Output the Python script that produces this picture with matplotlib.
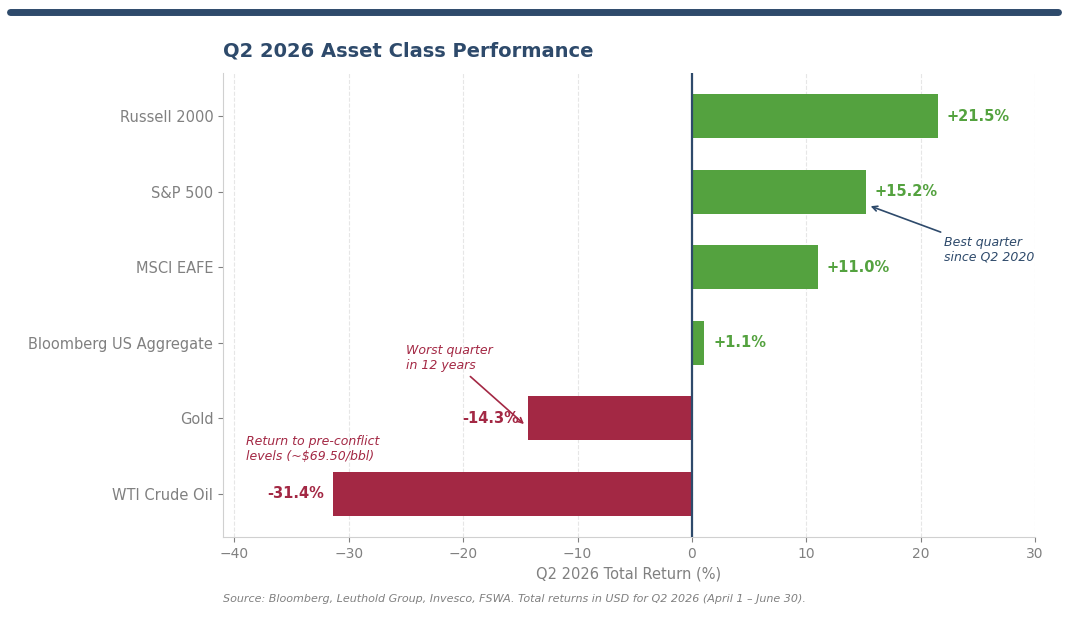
import matplotlib.pyplot as plt
from matplotlib.lines import Line2D

categorias = ["Russell 2000", "S&P 500", "MSCI EAFE", "Bloomberg US Aggregate", "Gold", "WTI Crude Oil"]
retornos = [21.5, 15.2, 11.0, 1.1, -14.3, -31.4]

verde = "#54a23f"
vermelho = "#a32844"
azul = "#2e4a6b"
cinza = "#808080"

fig = plt.figure(figsize=(10.7, 6.2), dpi=100)
ax = fig.add_axes([223/1070, 1 - 537/620, (1035-223)/1070, (537-73)/620])

# faixa do topo
fig.add_artist(Line2D([10/1070, 1058/1070], [1 - 12/620, 1 - 12/620], color=azul, lw=5,
                      solid_capstyle="round"))

y = list(range(len(categorias)))
cores = [verde if r >= 0 else vermelho for r in retornos]
ax.barh(y, retornos, height=0.58, color=cores, zorder=2)
ax.axvline(0, color=azul, lw=1.6, zorder=3)

for yi, r in zip(y, retornos):
    txt = f"{r:+.1f}%"
    if r >= 0:
        ax.text(r + 0.8, yi, txt, va="center", ha="left", color=verde, fontsize=10.5, fontweight="bold")
    else:
        ax.text(r - 0.8, yi, txt, va="center", ha="right", color=vermelho, fontsize=10.5, fontweight="bold")

ax.set_xlim(-41, 30)
ax.set_ylim(5.57, -0.57)
ax.set_yticks(y)
ax.set_yticklabels(categorias, fontsize=10.5, color=cinza)
ax.set_xticks(range(-40, 31, 10))
ax.set_xticklabels(["\u221240", "\u221230", "\u221220", "\u221210", "0", "10", "20", "30"])
ax.tick_params(axis="x", colors=cinza, labelsize=10)
ax.tick_params(axis="y", colors=cinza)
ax.grid(axis="x", linestyle="--", color="#e6e6e6", lw=0.8, zorder=0)
for s in ["top", "right"]:
    ax.spines[s].set_visible(False)
for s in ["left", "bottom"]:
    ax.spines[s].set_color("#d0d0d0")

ax.set_xlabel("Q2 2026 Total Return (%)", color=cinza, fontsize=10.5)
ax.set_title("Q2 2026 Asset Class Performance", loc="left", fontsize=14, fontweight="bold",
             color=azul, pad=12)

ax.annotate("Best quarter\nsince Q2 2020", xy=(15.4, 1.18), xytext=(22, 1.77),
            fontsize=9, style="italic", color=azul, ha="left", va="center",
            arrowprops=dict(arrowstyle="->", color=azul, lw=1.2))
ax.annotate("Worst quarter\nin 12 years", xy=(-14.5, 4.1), xytext=(-25, 3.2),
            fontsize=9, style="italic", color=vermelho, ha="left", va="center",
            arrowprops=dict(arrowstyle="->", color=vermelho, lw=1.2))
ax.text(-39, 4.4, "Return to pre-conflict\nlevels (~$69.50/bbl)", fontsize=9, style="italic",
        color=vermelho, ha="left", va="center")

fig.text(223/1070, 1 - 599/620,
         "Source: Bloomberg, Leuthold Group, Invesco, FSWA. Total returns in USD for Q2 2026 (April 1 \u2013 June 30).",
         fontsize=8, style="italic", color=cinza, va="center")

fig.savefig("out.png", dpi=100)
